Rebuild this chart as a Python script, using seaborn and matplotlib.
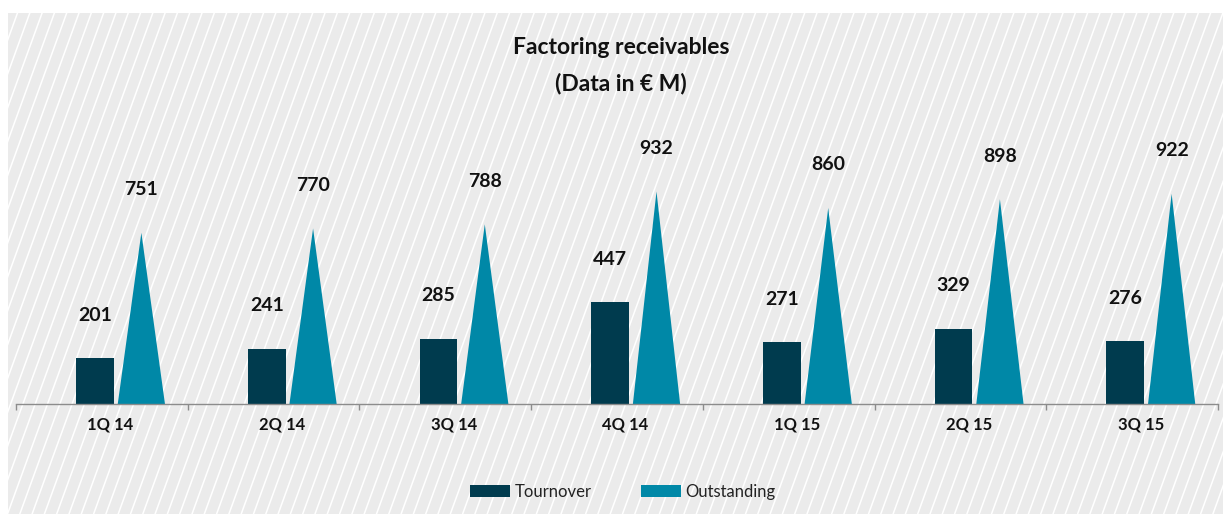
import numpy as np
import matplotlib
matplotlib.use('Agg')
import matplotlib.pyplot as plt
from matplotlib.patches import Rectangle, Patch
import seaborn as sns

# datos
quarters = ['1Q 14', '2Q 14', '3Q 14', '4Q 14', '1Q 15', '2Q 15', '3Q 15']
tournover = [201, 241, 285, 447, 271, 329, 276]
outstanding = [751, 770, 788, 932, 860, 898, 922]

dark = '#003b4e'
teal = '#0088a7'

sns.set_theme(style='white')
plt.rcParams['font.family'] = ['Lato', 'DejaVu Sans']

W, H = 1223, 514
fig = plt.figure(figsize=(W / 100, H / 100), dpi=100)
fig.patch.set_facecolor('white')

# fondo gris con rayas diagonales
bg = fig.add_axes([0, 0, 1, 1])
bg.set_xlim(0, W)
bg.set_ylim(H, 0)
bg.axis('off')
panel = Rectangle((8, 13), W - 8, H - 13, facecolor='#ebebeb', edgecolor='none')
bg.add_patch(panel)
slope = 2.75
for c in np.arange(-300, W + 50, 12.3):
    ln, = bg.plot([c, c + H / slope], [H, 0], color='white', lw=1.1)
    ln.set_clip_path(panel)

# eje principal
x0, x1, ybase, ytop = 16, 1218, 404, 13
ax = fig.add_axes([x0 / W, (H - ybase) / H, (x1 - x0) / W, (ybase - ytop) / H])
ax.patch.set_alpha(0)
scale = 0.228
ax.set_xlim(0, len(quarters))
ax.set_ylim(0, (ybase - ytop) / scale)

idx = np.arange(len(quarters))
bar_x = idx + 0.5 - 0.04
tri_x = idx + 0.5 + 0.23
bar_w = 0.22
tri_w = 0.275

sns.barplot(x=bar_x, y=tournover, native_scale=True, width=bar_w, color=dark,
            saturation=1, ax=ax, errorbar=None, linewidth=0, edgecolor=dark)
for xc, v in zip(tri_x, outstanding):
    ax.fill([xc - tri_w / 2, xc, xc + tri_w / 2], [0, v, 0], color=teal, lw=0)

for xc, v in zip(bar_x, tournover):
    ax.annotate(str(v), (xc, v), xytext=(0, 31), textcoords='offset points',
                ha='center', va='center', fontsize=14, fontweight='bold', color='#111111')
for xc, v in zip(tri_x, outstanding):
    ax.annotate(str(v), (xc, v), xytext=(0, 31), textcoords='offset points',
                ha='center', va='center', fontsize=14, fontweight='bold', color='#111111')

for s in ['top', 'right', 'left']:
    ax.spines[s].set_visible(False)
ax.spines['bottom'].set_color('#8c8c8c')
ax.spines['bottom'].set_linewidth(1)
ax.set_yticks([])
ax.set_xticks(np.arange(len(quarters) + 1))
ax.set_xticklabels([])
ax.tick_params(axis='x', which='major', length=4, color='#8c8c8c', width=1, direction='out', bottom=True)
ax.set_xticks(idx + 0.5 + 0.05, minor=True)
ax.set_xticklabels(quarters, minor=True, fontsize=12, fontweight='bold', color='#111111')
ax.tick_params(axis='x', which='minor', length=0, pad=9)
ax.set_xlabel('')
ax.set_ylabel('')

fig.text(621 / W, 1 - 48 / H, 'Factoring receivables', ha='center', va='center',
         fontsize=16.5, fontweight='bold', color='#111111')
fig.text(621 / W, 1 - 83 / H, '(Data in € M)', ha='center', va='center',
         fontsize=16.5, fontweight='bold', color='#111111')

handles = [Patch(facecolor=dark, edgecolor='none', label='Tournover'),
           Patch(facecolor=teal, edgecolor='none', label='Outstanding')]
fig.legend(handles=handles, loc='center', bbox_to_anchor=(623 / W, 1 - 492 / H), ncol=2,
           frameon=False, fontsize=12, handlelength=2.4, handleheight=0.75,
           handletextpad=0.25, columnspacing=3.0, labelcolor='#222222')

fig.savefig('out.png', dpi=100)
